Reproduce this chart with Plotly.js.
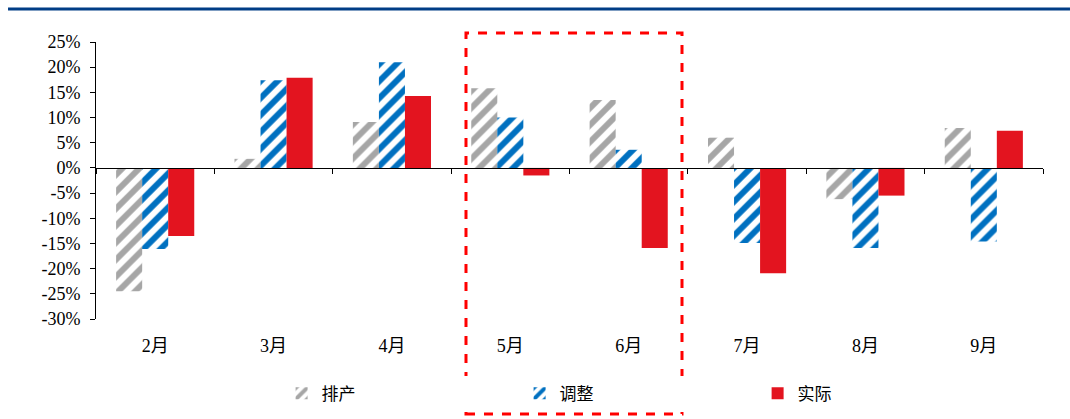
<!DOCTYPE html>
<html>
<head>
<meta charset="utf-8">
<script src="https://cdn.plot.ly/plotly-3.0.1.min.js"></script>
<style>html,body{margin:0;padding:0;background:#fff;}#chart{width:1070px;height:419px;}</style>
</head>
<body>
<div id="chart"></div>
<script>
const categories = ['2月','3月','4月','5月','6月','7月','8月','9月'];
const seriesNames = ['排产','调整','实际'];
const paichan = [-0.245, 0.018, 0.091, 0.158, 0.135, 0.060, -0.062, 0.079];
const tiaozheng = [-0.161, 0.174, 0.210, 0.100, 0.036, -0.149, -0.159, -0.146];
const shiji = [-0.135, 0.179, 0.143, -0.015, -0.159, -0.209, -0.055, 0.074];
const yTickVals = [-0.30,-0.25,-0.20,-0.15,-0.10,-0.05,0,0.05,0.10,0.15,0.20,0.25];
const yTickText = ['-30%','-25%','-20%','-15%','-10%','-5%','0%','5%','10%','15%','20%','25%'];

const grey = '#A6A6A6', blue = '#0070C0', red = '#E3141F';
const serif = 'Liberation Serif, serif';
const cjk = 'Liberation Serif, Noto Sans CJK SC, serif';

function hatch(c){
  return {color: c, line: {width: 0},
    pattern: {shape: '/', fgcolor: c, bgcolor: '#ffffff', size: 12, solidity: 0.5, fillmode: 'replace'}};
}

const traces = [
  {type:'bar', name: seriesNames[0], x: categories, y: paichan, marker: hatch(grey)},
  {type:'bar', name: seriesNames[1], x: categories, y: tiaozheng, marker: hatch(blue)},
  {type:'bar', name: seriesNames[2], x: categories, y: shiji, marker: {color: red, line:{width:0}}},
  {type:'scatter', x: [], y: [], xaxis: 'x2', yaxis: 'y', showlegend: false, hoverinfo: 'skip'}
];

const n = categories.length;
const boundaries = categories.map((_, i) => i - 0.5).concat([n - 0.5]);
const yMin = yTickVals[0], yMax = yTickVals[yTickVals.length - 1];

const layout = {
  width: 1070, height: 419,
  margin: {l: 96, r: 27, t: 42, b: 100, pad: 0, autoexpand: false},
  paper_bgcolor: '#fff', plot_bgcolor: '#fff',
  barmode: 'group', bargap: 0.34, bargroupgap: 0,
  showlegend: true,
  legend: {orientation: 'h', x: 0.196, xanchor: 'left', y: -0.27, yanchor: 'middle',
    entrywidth: 193, entrywidthmode: 'pixels', itemwidth: 30,
    font: {family: 'Noto Sans CJK SC, sans-serif', size: 17, color: '#000'}, traceorder: 'normal'},
  xaxis: {type: 'category', range: [-0.5, n - 0.5], showline: false, ticks: '', showgrid: false,
    zeroline: false, ticklabelstandoff: 14, automargin: false,
    tickfont: {family: cjk, size: 18, color: '#000'}},
  xaxis2: {overlaying: 'x', anchor: 'free', position: (0 - yMin) / (yMax - yMin), side: 'bottom',
    range: [-0.5, n - 0.5], tickmode: 'array', tickvals: boundaries, showticklabels: false,
    ticks: 'outside', ticklen: 5, tickcolor: '#000', tickwidth: 1, automargin: false,
    showline: true, linecolor: '#000', linewidth: 1, showgrid: false, zeroline: false},
  yaxis: {range: [yMin, yMax], tickmode: 'array', tickvals: yTickVals, ticktext: yTickText,
    showline: true, linecolor: '#000', linewidth: 1, ticks: 'outside', ticklen: 5, tickcolor: '#000',
    showgrid: false, zeroline: false, ticklabelstandoff: 6, automargin: false,
    tickfont: {family: serif, size: 18, color: '#000'}},
  shapes: [
    {type: 'line', xref: 'paper', yref: 'paper', x0: -0.0929, x1: 1.0285, y0: 1.119, y1: 1.119,
      line: {color: '#003D86', width: 3}},
    {type: 'rect', xref: 'paper', yref: 'paper', x0: 0.3907, x1: 0.6188, y0: -0.343, y1: 1.0325,
      line: {color: '#FF0000', width: 3, dash: 'dash'}, fillcolor: 'rgba(0,0,0,0)'}
  ]
};

Plotly.newPlot('chart', traces, layout, {displayModeBar: false, staticPlot: true});
</script>
</body>
</html>
